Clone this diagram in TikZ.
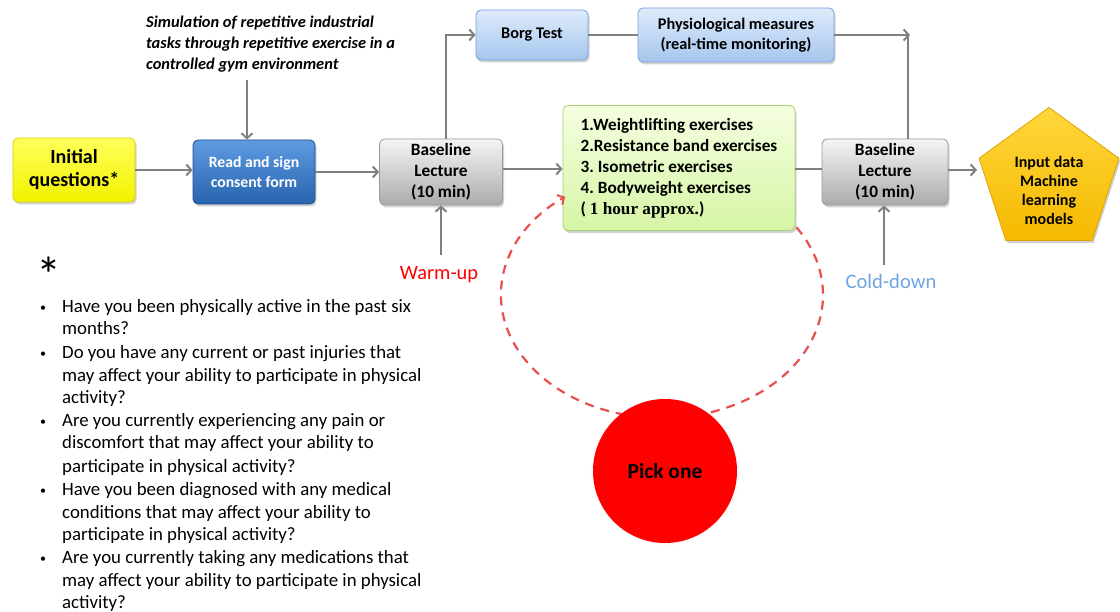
\documentclass[tikz,border=0pt]{standalone}
\usepackage{fontspec}
\setmainfont{Carlito}
\newfontfamily\serifb{Liberation Serif}
\usetikzlibrary{shadows,shapes.geometric,arrows.meta}
\definecolor{arrgray}{HTML}{808080}
\definecolor{dashred}{HTML}{E8504F}
\definecolor{coldblue}{HTML}{6FA5E0}
\definecolor{yelD}{RGB}{210,210,0}
\definecolor{yelT}{RGB}{255,255,90}
\definecolor{yelB}{RGB}{242,242,0}
\definecolor{bluD}{RGB}{30,75,140}
\definecolor{bluT}{RGB}{95,155,225}
\definecolor{bluB}{RGB}{40,100,175}
\definecolor{lbD}{RGB}{120,160,215}
\definecolor{lbT}{RGB}{222,235,251}
\definecolor{lbB}{RGB}{166,198,238}
\definecolor{grD}{RGB}{165,210,115}
\definecolor{grT}{RGB}{245,255,225}
\definecolor{grB}{RGB}{214,245,165}
\definecolor{goD}{RGB}{220,165,0}
\definecolor{goT}{RGB}{255,215,60}
\definecolor{goB}{RGB}{245,185,0}
\begin{document}
\frenchspacing
\begin{tikzpicture}[x=1pt,y=-1pt,
  box/.style={rounded corners=5pt, line width=0.8pt, align=center, inner sep=0pt,
    font=\bfseries\fontsize{17.3}{21}\selectfont,
    drop shadow={opacity=0.35, shadow xshift=1.5pt, shadow yshift=-2.5pt}},
  graybox/.style={box, draw=black!40, top color=black!4, bottom color=black!33,
    minimum width=123pt, minimum height=66pt},
  bluebox/.style={box, draw=lbD, top color=lbT, bottom color=lbB,
    font=\bfseries\fontsize{16.3}{20}\selectfont},
  conn/.style={draw=arrgray, line width=2pt},
  arr/.style={conn, -{Straight Barb[length=5pt,width=11pt,line width=2pt]}},
  qline/.style={anchor=base west, inner sep=0pt, font=\fontsize{18.8}{22}\selectfont},
  bul/.style={anchor=base, inner sep=0pt, font=\fontsize{12}{12}\selectfont},
]
\useasboundingbox[fill=white] (0,0) rectangle (1120,612);

% main nodes
\node[box, draw=yelD, top color=yelT, bottom color=yelB,
  minimum width=122pt, minimum height=64pt, font=\bfseries\fontsize{20}{23}\selectfont]
  (iq) at (74,170) {Initial\\questions*};
\node[box, draw=bluD, top color=bluT, bottom color=bluB,
  text=white, minimum width=122pt, minimum height=64pt, font=\bfseries\fontsize{15.7}{20}\selectfont]
  (rs) at (254,172) {Read and sign\\consent form};
\node[graybox] (bl1) at (441,172) {Baseline\\Lecture\\(10 min)};
\node[graybox, minimum width=126pt] (bl2) at (885,172) {Baseline\\Lecture\\(10 min)};
\node[bluebox, minimum width=112pt, minimum height=50pt] (borg) at (532,35) {Borg Test};
\node[bluebox, minimum width=196pt, minimum height=54pt] (phys) at (736,35)
  {Physiological measures\\(real-time monitoring)};
\node[box, draw=grD, top color=grT, bottom color=grB,
  minimum width=232pt, minimum height=125pt, align=left,
  font=\bfseries\fontsize{17.2}{21}\selectfont]
  (ex) at (679,168) {1.Weightlifting exercises\\2.Resistance band exercises\\3. Isometric exercises\\4. Bodyweight exercises\\( {\serifb 1 hour approx.})};
\node[regular polygon, regular polygon sides=5, minimum size=147pt, inner sep=0pt,
  draw=goD, line width=0.8pt, top color=goT, bottom color=goB,
  drop shadow={opacity=0.35, shadow xshift=1.5pt, shadow yshift=-2.5pt}]
  (pent) at (1049,181) {};
\node[font=\bfseries\fontsize{16}{19}\selectfont, align=center] (penttxt) at (1049,190)
  {Input data\\Machine\\learning\\models};

% simulation note
\node[anchor=north west, align=left, inner sep=0pt,
  font=\bfseries\itshape\fontsize{16.4}{21}\selectfont] (sim) at (146,16)
  {Simulation of repetitive industrial\\tasks through repetitive exercise in a\\controlled gym environment};
\coordinate (simend) at (247,80);

% connectors
\draw[arr] (iq.east) -- (iq.east -| rs.west);
\draw[arr] (simend) -- (simend |- rs.north);
\draw[arr] (rs.east) -- (rs.east -| bl1.west);
\draw[arr] ([xshift=5pt]bl1.north) |- (borg.west);
\draw[conn] (borg.east) -- (phys.west);
\coordinate (corner) at (910,35);
\draw[arr] (phys.east) -- (corner);
\draw[conn] ([xshift=-2pt]corner) -- ([xshift=-2pt]corner |- bl2.north);
\coordinate (bl1r) at (503,169);
\draw[arr] (bl1.east |- bl1r) -- (bl1r -| ex.west);
\draw[conn] (ex.east |- bl1r) -- (bl1r -| bl2.west);
\coordinate (pentin) at (977,170);
\draw[arr] (bl2.east |- pentin) -- (pentin);

% warm-up / cold-down
\coordinate (warm) at (441,255);
\draw[arr] (warm) -- (warm |- bl1.south);
\node[text=red, font=\fontsize{20.4}{22}\selectfont] (warmlbl) at (439,275) {Warm-up};
\coordinate (cold) at (884,265);
\draw[arr] (cold) -- (cold |- bl2.south);
\node[text=coldblue, font=\fontsize{20.6}{22}\selectfont] (coldlbl) at (891,281) {Cold-down};

% dashed loop
\coordinate (ec) at (662,295);
\path (ec) ++(-33.4:161 and 123) coordinate (es);
\draw[dashred, line width=2.2pt, dash pattern=on 9pt off 7pt,
  -{Straight Barb[length=5pt,width=11pt,line width=2pt]}]
  (es) arc[start angle=-33.4, end angle=233, x radius=161, y radius=123];

% pick one
\node[circle, fill=red, minimum size=144pt, inner sep=0pt,
  circular drop shadow={opacity=0.3, shadow scale=1.03, shadow xshift=0pt, shadow yshift=0pt},
  font=\bfseries\fontsize{21.5}{22}\selectfont] (pick) at (665,471) {Pick one};

% questions
\node[inner sep=0pt, font=\fontsize{50}{50}\selectfont] (ast) at (49,275) {*};
\node[qline] (q1a) at (62,313) {Have you been physically active in the past six};
\node[qline] (q1b) at (62,335) {months?};
\node[qline] (q2a) at (62,359) {Do you have any current or past injuries that};
\node[qline] (q2b) at (62,382) {may affect your ability to participate in physical};
\node[qline] (q2c) at (62,404) {activity?};
\node[qline] (q3a) at (62,427) {Are you currently experiencing any pain or};
\node[qline] (q3b) at (62,449) {discomfort that may affect your ability to};
\node[qline] (q3c) at (62,472) {participate in physical activity?};
\node[qline] (q4a) at (62,495) {Have you been diagnosed with any medical};
\node[qline] (q4b) at (62,518) {conditions that may affect your ability to};
\node[qline] (q4c) at (62,540) {participate in physical activity?};
\node[qline] (q5a) at (62,563) {Are you currently taking any medications that};
\node[qline] (q5b) at (62,586) {may affect your ability to participate in physical};
\node[qline] (q5c) at (62,608) {activity?};
\foreach \yy [count=\i] in {312,358,426,494,562}
  \node[bul] (b\i) at (43,\yy) {•};
\end{tikzpicture}
\end{document}
